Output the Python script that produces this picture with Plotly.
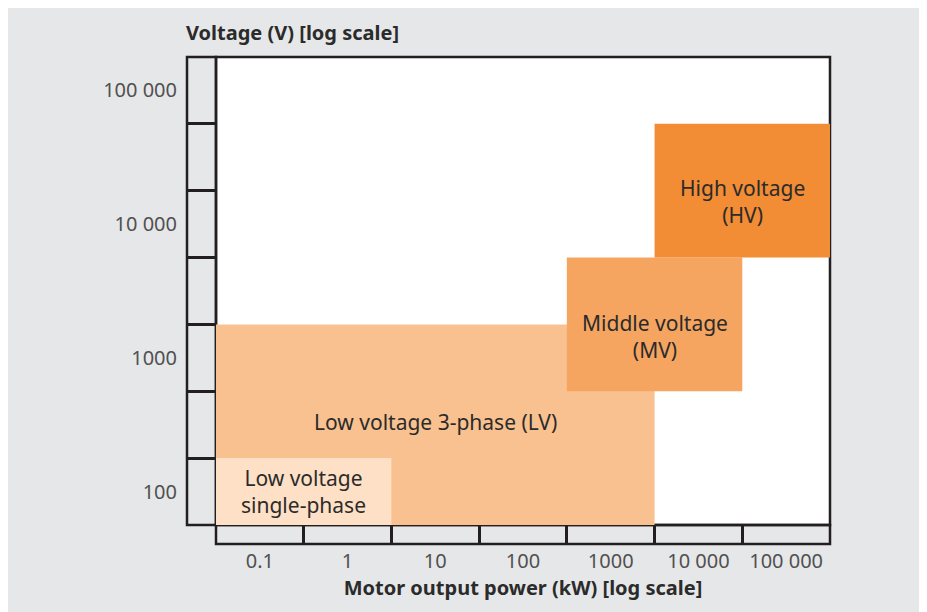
import numpy as np
import plotly.graph_objects as go

# ---- data ----
regions = ["Low voltage 3-phase (LV)", "Low voltage<br>single-phase",
           "Middle voltage<br>(MV)", "High voltage<br>(HV)"]
power_min_kw = [0.0316, 0.0316, 316, 3162]
power_max_kw = [3162, 3.16, 31623, 316228]
voltage_min_v = [56.2, 56.2, 562, 5623]
voltage_max_v = [1778, 178, 5623, 56234]
label_power_kw = [10, 0.316, 3162, 31623]
label_voltage_v = [330, 100, 1450, 14800]
fill_colors = ["#f9c18f", "#fde0c5", "#f6a561", "#f28c35"]

x_tick_vals = [0.1, 1, 10, 100, 1000, 10000, 100000]
x_tick_text = ["0.1", "1", "10", "100", "1000", "10 000", "100 000"]
x_band_edges = [0.316, 3.16, 31.6, 316, 3162, 31623]
y_tick_vals = [100, 1000, 10000, 100000]
y_tick_text = ["100", "1000", "10 000", "100 000"]
y_band_edges = [178, 562, 1778, 5623, 17783, 56234]

x_range_log = [-1.5, 5.5]
y_range_log = [1.75, 5.25]

FONT = "Noto Sans"
TXT = "#2b2b2b"
BG = "#e6e7e9"
LINE = "#231f20"

fig = go.Figure()
for name, x0, x1, y0, y1, c in zip(regions, power_min_kw, power_max_kw,
                                    voltage_min_v, voltage_max_v, fill_colors):
    fig.add_trace(go.Scatter(
        x=[x0, x1, x1, x0, x0], y=[y0, y0, y1, y1, y0],
        mode="lines", fill="toself", fillcolor=c,
        line=dict(width=0, color=c), hoverinfo="skip", showlegend=False,
        name=name.replace("<br>", " ")))

for name, lx, ly in zip(regions, label_power_kw, label_voltage_v):
    fig.add_annotation(x=np.log10(lx), y=np.log10(ly), xref="x", yref="y",
                       text=name, showarrow=False,
                       font=dict(family=FONT, size=21, color=TXT))

W, H = 919, 604
L, R, T, B = 208, 97, 49, 87
pw, ph = W - L - R, H - T - B
ystrip = 29 / pw
xstrip = 19 / ph

# plot border (below traces)
fig.add_shape(type="rect", xref="paper", yref="paper", x0=0, x1=1, y0=0, y1=1,
              line=dict(color=LINE, width=2.5), layer="below")
# left strip
fig.add_shape(type="rect", xref="paper", yref="paper", x0=-ystrip, x1=0, y0=0, y1=1,
              line=dict(color=LINE, width=2.5), layer="below")
# bottom strip
fig.add_shape(type="rect", xref="paper", yref="paper", x0=0, x1=1, y0=-xstrip, y1=0,
              line=dict(color=LINE, width=2.5), layer="below")

fig.update_layout(
    width=W, height=H,
    margin=dict(l=L, r=R, t=T, b=B),
    paper_bgcolor=BG, plot_bgcolor="white",
    showlegend=False,
    font=dict(family=FONT, color=TXT),
    xaxis=dict(type="log", range=x_range_log, showgrid=False, zeroline=False,
               showline=False, tickmode="array", tickvals=x_tick_vals,
               ticktext=x_tick_text, ticks="outside", ticklen=15,
               tickcolor="rgba(0,0,0,0)", ticklabelstandoff=3,
               tickfont=dict(family=FONT, size=20, color="#505050"),
               minor=dict(tickmode="array", tickvals=x_band_edges, ticks="outside",
                          ticklen=19, tickwidth=2.5, tickcolor=LINE, showgrid=False),
               title=dict(text="<b>Motor output power (kW) [log scale]</b>",
                          font=dict(family=FONT, size=20, color=TXT), standoff=4),
               fixedrange=True),
    yaxis=dict(type="log", range=y_range_log, showgrid=False, zeroline=False,
               showline=False, tickmode="array", tickvals=y_tick_vals,
               ticktext=y_tick_text, ticks="outside", ticklen=29,
               tickcolor="rgba(0,0,0,0)", ticklabelstandoff=5,
               tickfont=dict(family=FONT, size=20, color="#505050"),
               minor=dict(tickmode="array", tickvals=y_band_edges, ticks="outside",
                          ticklen=29, tickwidth=2.5, tickcolor=LINE, showgrid=False),
               fixedrange=True),
)

fig.add_annotation(text="<b>Voltage (V) [log scale]</b>", xref="paper", yref="paper",
                   x=-32 / pw, y=1 + 24 / ph, xanchor="left", yanchor="middle",
                   showarrow=False, font=dict(family=FONT, size=20, color=TXT))

fig.write_html("out.html")
